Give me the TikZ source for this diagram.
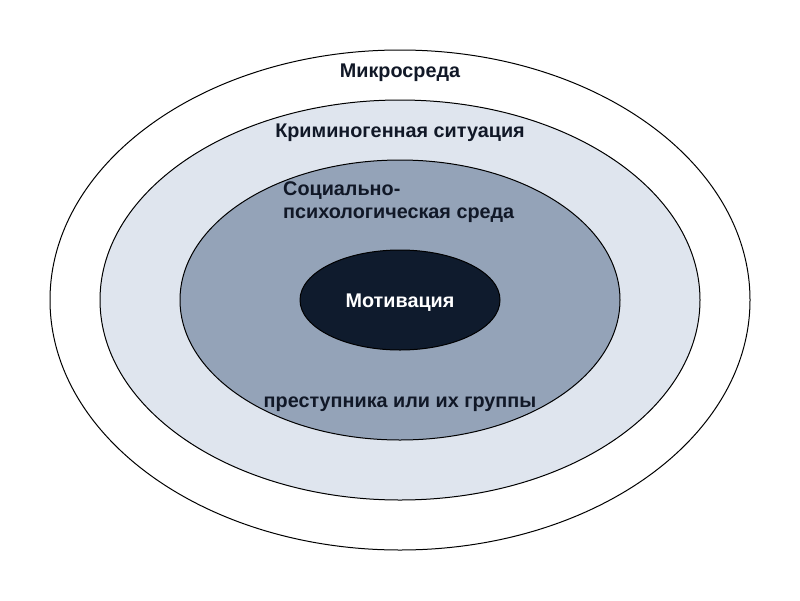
\documentclass[tikz,border=0pt]{standalone}
\usepackage{fontspec}
\setmainfont{Liberation Sans}
\definecolor{ring2}{HTML}{DFE5EE}
\definecolor{ring3}{HTML}{94A3B8}
\definecolor{core}{HTML}{0F1B2D}
\definecolor{txt}{HTML}{111827}
\begin{document}
\begin{tikzpicture}[x=1pt,y=-1pt,
  ring/.style={draw=black,line width=1pt},
  lbl/.style={font=\bfseries\fontsize{19.8}{23}\selectfont,text=txt,inner sep=0pt,anchor=base}]
\useasboundingbox (0,0) rectangle (800,600);
\fill[white] (0,0) rectangle (800,600);
\path[ring,fill=white] (400,300) ellipse [x radius=350,y radius=250];
\path[ring,fill=ring2] (400,300) ellipse [x radius=300,y radius=200];
\path[ring,fill=ring3] (400,300) ellipse [x radius=220,y radius=140];
\path[ring,fill=core] (400,300) ellipse [x radius=100,y radius=50];
\node[lbl] (micro) at (400,77) {Микросреда};
\node[lbl] (crim) at (400,137) {Криминогенная ситуация};
\node[lbl,anchor=base west] (soc1) at (283,195) {Социально-};
\node[lbl,anchor=base west] (soc2) at (283,218) {психологическая среда};
\node[lbl,text=white] (mot) at (400,307) {Мотивация};
\node[lbl] (prest) at (400,407) {преступника или их группы};
\end{tikzpicture}
\end{document}
